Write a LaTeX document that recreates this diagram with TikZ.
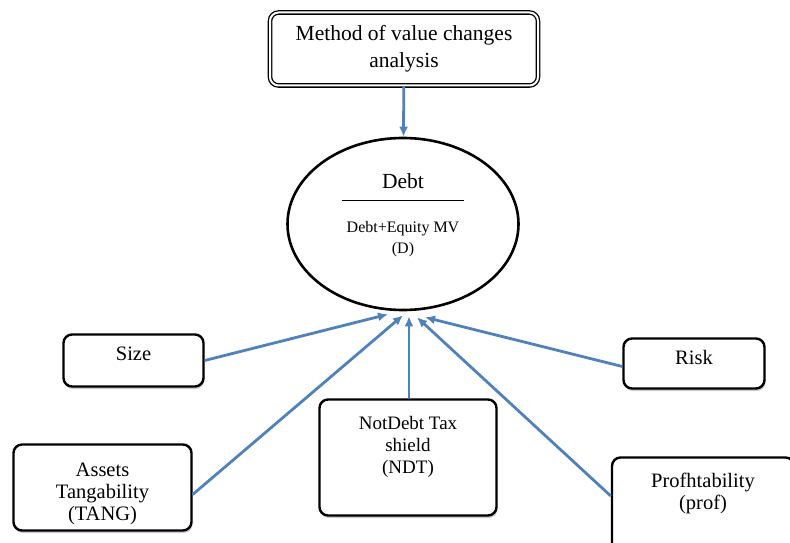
\documentclass[tikz,border=0pt]{standalone}
\usepackage{fontspec}
\setmainfont{Liberation Serif}
\usetikzlibrary{shapes.geometric,arrows.meta,positioning,shadows}
\definecolor{lineblue}{RGB}{79,129,189}
\tikzset{
    block/.style={
        rectangle, rounded corners=0.3cm,
        draw=black, line width=2.4pt, fill=white,
        align=center, font=\fontsize{20.5}{23}\selectfont,
        drop shadow={shadow xshift=0.8pt, shadow yshift=-2.5pt, fill=black!40, opacity=0.5}
    },
    mainbox/.style={
        rectangle, rounded corners=0.3cm,
        draw=black, line width=1.3pt, double=white, double distance=2pt,
        align=center, font=\fontsize{21.5}{27}\selectfont,
        minimum width=268pt, minimum height=73pt
    },
    ratio/.style={
        ellipse, draw=black, line width=2.6pt, fill=white,
        align=center, font=\fontsize{16}{21}\selectfont,
        minimum width=231pt, minimum height=172pt,
        inner sep=0pt
    },
    connector/.style={
        line width=2.8pt, draw=lineblue,
        -{Latex[length=10pt,width=9pt]}
    }
}

\begin{document}
\begin{tikzpicture}[x=1pt,y=1pt]
    \useasboundingbox (0,0) rectangle (790,542);
    % top box and the ratio
    \node[mainbox] (method) at (404,493) {Method of value changes\\analysis};
    \node[ratio, text depth=20pt] (debt) at (403,318) {%
        {\fontsize{21.5}{24}\selectfont Debt}\\[-9pt]
        \rule{122pt}{1.3pt}\\[11pt]
        Debt+Equity MV\\
        (D)};
    % factors
    \node[block, minimum width=140pt, minimum height=52pt, text depth=13pt] (size) at (133.5,181.5) {Size};
    \node[block, minimum width=141pt, minimum height=50pt, text depth=13pt] (risk) at (694,178.5) {Risk};
    \node[block, minimum width=178pt, minimum height=86pt, text height=70pt, font=\fontsize{20.5}{22}\selectfont] (tang) at (102.5,54.5) {Assets\\Tangability\\(TANG)};
    \node[block, minimum width=177pt, minimum height=116pt, text depth=26pt, font=\fontsize{19}{22}\selectfont] (ndt) at (408,84.5) {NotDebt Tax\\shield\\(NDT)};
    \node[block, minimum width=182pt, minimum height=101pt, text depth=34pt, font=\fontsize{20.5}{22}\selectfont] (prof) at (703,34) {Profhtability\\(prof)};
    % arrow ends under the ellipse
    \coordinate (sizeend) at ([xshift=-15pt,yshift=-3pt]debt.south);
    \coordinate (tangend) at ([xshift=0pt,yshift=-4pt]debt.south);
    \coordinate (ndtend) at ([xshift=6pt,yshift=-5pt]debt.south);
    \coordinate (profend) at ([xshift=14pt,yshift=-6pt]debt.south);
    \coordinate (riskend) at ([xshift=22pt,yshift=-6pt]debt.south);
    \draw[connector] (method) -- (debt);
    \draw[connector] (size.east) -- (sizeend);
    \draw[connector] ([yshift=-7pt]tang.east) -- (tangend);
    \draw[connector] (ndt.north -| ndtend) -- (ndtend);
    \draw[connector] ([yshift=12pt]prof.west) -- (profend);
    \draw[connector] ([yshift=-3pt]risk.west) -- (riskend);
\end{tikzpicture}
\end{document}
